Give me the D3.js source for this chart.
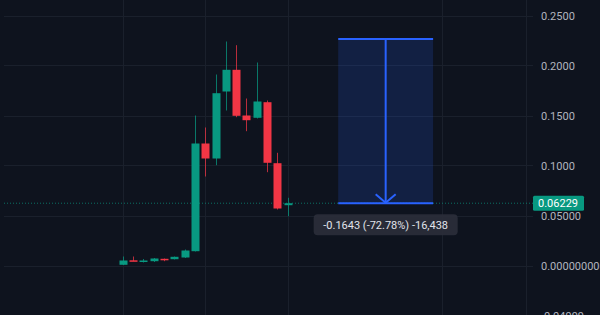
<!DOCTYPE html>
<html><head><meta charset="utf-8">
<script src="https://cdn.jsdelivr.net/npm/d3@7"></script>
<style>html,body{margin:0;padding:0;background:#0e131e;overflow:hidden}svg{display:block}</style>
</head><body>
<svg id="c" width="600" height="315"></svg>
<script>
// ---- data ----
const candleIndex = [0,1,2,3,4,5,6,7,8,9,10,11,12,13,14,15,16];
const opens  = [0.0007,0.0052,0.0045,0.0043,0.0067,0.0063,0.0080,0.0143,0.1220,0.1070,0.1740,0.1957,0.1500,0.1477,0.1633,0.1023,0.0603];
const highs  = [0.0090,0.0090,0.0065,0.0075,0.0070,0.0090,0.0160,0.1500,0.1380,0.1910,0.2240,0.2203,0.1670,0.2030,0.1650,0.1127,0.0677];
const lows   = [0.0005,0.0045,0.0030,0.0035,0.0043,0.0060,0.0075,0.0140,0.0890,0.1003,0.1550,0.1483,0.1343,0.1470,0.0933,0.0560,0.0493];
const closes = [0.0050,0.0045,0.0050,0.0070,0.0065,0.0087,0.0150,0.1220,0.1070,0.1723,0.1957,0.1497,0.1453,0.1640,0.1027,0.0570,0.06229];
const priceTicks = [0.25,0.2,0.15,0.1,0.05,0,-0.04999];
const priceTickLabels = ["0.2500","0.2000","0.1500","0.1000","0.05000","0.000000000","-0.04999"];
const timeGridIndex = [0,8,16,31,39.1];
const lastPrice = 0.06229;
const lastPriceLabel = "0.06229";
const measureStartIndex = 20.9, measureEndIndex = 30.1;
const measureFrom = 0.2266, measureTo = 0.06229;
const measureText = "-0.1643 (-72.78%) -16,438";

// ---- layout ----
const svg = d3.select("#c");
const W = 600, H = 315, plotL = 4, plotR = 533;
const x = d3.scaleLinear().domain([0,16]).range([122.7,287.7]);
const y = d3.scaleLinear().domain([0,0.25]).range([265.5,15.5]);
const GREEN = "#089981", RED = "#f23645", BLUE = "#2962ff", GRID = "#1a202c";
const font = "Roboto, 'Liberation Sans', sans-serif";

svg.append("rect").attr("width",W).attr("height",H).attr("fill","#0e131e");

// grid
const g = svg.append("g");
g.selectAll("line.h").data(priceTicks).join("line")
  .attr("x1",plotL).attr("x2",plotR)
  .attr("y1",d=>Math.round(y(d))+0.5).attr("y2",d=>Math.round(y(d))+0.5)
  .attr("stroke",GRID).attr("stroke-width",1);
g.selectAll("line.v").data(timeGridIndex).join("line")
  .attr("x1",d=>Math.round(x(d))+0.5).attr("x2",d=>Math.round(x(d))+0.5)
  .attr("y1",0).attr("y2",H)
  .attr("stroke",GRID).attr("stroke-width",1);

// measure box
const mx1 = x(measureStartIndex), mx2 = x(measureEndIndex), mxc = (mx1+mx2)/2;
const my1 = y(measureFrom), my2 = y(measureTo);
svg.append("rect").attr("x",mx1).attr("y",my1).attr("width",mx2-mx1).attr("height",my2-my1)
  .attr("fill","rgba(41,98,255,0.17)");

// last price dotted line
svg.append("line").attr("x1",plotL).attr("x2",plotR)
  .attr("y1",y(lastPrice)).attr("y2",y(lastPrice))
  .attr("stroke",GREEN).attr("stroke-opacity",0.7).attr("stroke-width",1)
  .attr("stroke-dasharray","1,2");

// measure lines
const ml = svg.append("g").attr("stroke",BLUE).attr("stroke-width",2).attr("fill","none");
ml.append("line").attr("x1",mx1).attr("x2",mx2).attr("y1",my1).attr("y2",my1);
ml.append("line").attr("x1",mx1).attr("x2",mx2).attr("y1",my2).attr("y2",my2);
ml.append("line").attr("x1",mxc).attr("x2",mxc).attr("y1",my1).attr("y2",my2);
ml.append("path").attr("d",`M${mxc-10},${my2-9}L${mxc},${my2-0.5}L${mxc+10},${my2-9}`);

// candles
const data = candleIndex.map((i,k)=>({i,o:opens[k],h:highs[k],l:lows[k],c:closes[k]}));
const cg = svg.append("g").selectAll("g").data(data).join("g");
cg.append("line")
  .attr("x1",d=>Math.round(x(d.i))+0.5).attr("x2",d=>Math.round(x(d.i))+0.5)
  .attr("y1",d=>y(d.h)).attr("y2",d=>y(d.l))
  .attr("stroke",d=>d.c>=d.o?GREEN:RED).attr("stroke-opacity",0.75).attr("stroke-width",1);
cg.append("rect")
  .attr("x",d=>Math.round(x(d.i))-3.5).attr("width",8)
  .attr("y",d=>y(Math.max(d.o,d.c)))
  .attr("height",d=>Math.max(1.5,Math.abs(y(d.o)-y(d.c))))
  .attr("fill",d=>d.c>=d.o?GREEN:RED);

// measure label
const lw = 144, lh = 21, ly = my2+11;
svg.append("rect").attr("x",mxc-lw/2).attr("y",ly).attr("width",lw).attr("height",lh)
  .attr("rx",4).attr("fill","#2a2e39").attr("fill-opacity",0.92);
svg.append("text").attr("x",mxc).attr("y",ly+lh/2).attr("dy","0.35em")
  .attr("text-anchor","middle").attr("fill","#e0e3eb")
  .attr("font-family",font).attr("font-size",11).text(measureText);

// price axis
const axis = svg.append("g").attr("transform",`translate(${plotR},0)`)
  .call(d3.axisRight(y).tickValues(priceTicks).tickFormat((d,i)=>priceTickLabels[i]).tickSize(0).tickPadding(8));
axis.select(".domain").remove();
axis.selectAll("text").attr("fill","#b2b5be").attr("font-family",font).attr("font-size",11);

// last price label
const py = y(lastPrice);
svg.append("rect").attr("x",plotR).attr("y",py-7.5).attr("width",51).attr("height",15)
  .attr("rx",1.5).attr("fill",GREEN);
svg.append("text").attr("x",plotR+5).attr("y",py).attr("dy","0.35em")
  .attr("fill","#ffffff").attr("font-family",font).attr("font-size",11).text(lastPriceLabel);
</script>
</body></html>
